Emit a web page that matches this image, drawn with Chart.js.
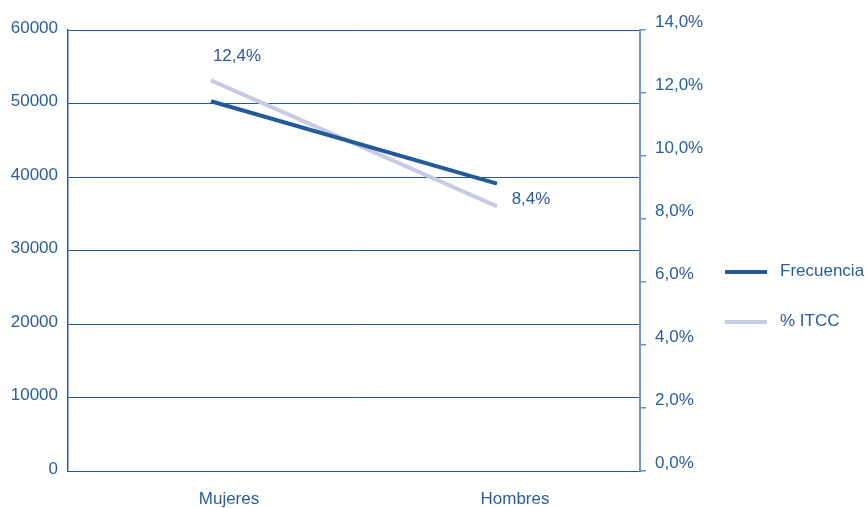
<!DOCTYPE html>
<html>
<head>
<meta charset="utf-8">
<script src="https://cdn.jsdelivr.net/npm/chart.js@4"></script>
<style>
  html, body { margin: 0; padding: 0; background: #fff; }
  #wrap { width: 867px; height: 508px; }
</style>
</head>
<body>
<div id="wrap"><canvas id="chart1"></canvas></div>
<script>
const categorias = ['Mujeres', 'Hombres'];
const frecuencia = [50300, 39100];
const itcc = [12.4, 8.4];

const azul = '#225a9a';
const azulClaro = '#c5cbe2';
const texto = '#2b5d9b';
const fuente = "'Liberation Sans', Arial, sans-serif";

const fmtPct = v => v.toFixed(1).replace('.', ',') + '%';

// etiquetas de datos de % ITCC y leyenda a la derecha
const extras = {
  id: 'extras',
  afterDatasetsDraw(chart) {
    const ctx = chart.ctx;
    ctx.save();
    ctx.font = '17px ' + fuente;
    ctx.fillStyle = texto;
    ctx.textBaseline = 'middle';
    ctx.textAlign = 'center';
    const meta = chart.getDatasetMeta(1);
    const desp = [[26, -24], [34, -7]];
    meta.data.forEach((pt, i) => {
      ctx.fillText(fmtPct(itcc[i]), pt.x + desp[i][0], pt.y + desp[i][1]);
    });

    // leyenda
    const items = [
      { label: 'Frecuencia', color: azul, y: 272 },
      { label: '% ITCC', color: azulClaro, y: 322 }
    ];
    ctx.textAlign = 'left';
    items.forEach(it => {
      ctx.strokeStyle = it.color;
      ctx.lineWidth = 4;
      ctx.beginPath();
      ctx.moveTo(725, it.y);
      ctx.lineTo(767, it.y);
      ctx.stroke();
      ctx.fillText(it.label, 780, it.y - 1);
    });
    ctx.restore();
  }
};

new Chart(document.getElementById('chart1'), {
  type: 'line',
  data: {
    labels: categorias,
    datasets: [{
      label: 'Frecuencia',
      data: frecuencia,
      yAxisID: 'y',
      borderColor: azul,
      borderWidth: 4,
      pointRadius: 0,
      fill: false
    }, {
      label: '% ITCC',
      data: itcc,
      yAxisID: 'y1',
      borderColor: azulClaro,
      borderWidth: 4,
      pointRadius: 0,
      fill: false
    }]
  },
  options: {
    responsive: true,
    maintainAspectRatio: false,
    animation: false,
    layout: { padding: { top: 30, left: 0, right: 0, bottom: 0 } },
    plugins: {
      legend: { display: false },
      tooltip: { enabled: false }
    },
    scales: {
      x: {
        offset: true,
        grid: { display: false, drawTicks: false },
        border: { color: azul, width: 1 },
        ticks: {
          color: texto,
          font: { family: fuente, size: 17 },
          padding: 18,
          labelOffset: 18
        },
        afterFit: s => { s.height = 37; }
      },
      y: {
        position: 'left',
        min: 0,
        max: 60000,
        grid: { color: azul, lineWidth: 1, drawTicks: false },
        border: { color: azul, width: 1.5 },
        ticks: {
          stepSize: 10000,
          color: texto,
          font: { family: fuente, size: 17 },
          padding: 10,
          labelOffset: -2,
          callback: v => String(v)
        },
        afterFit: s => { s.width = 68; }
      },
      y1: {
        position: 'right',
        min: 0,
        max: 14,
        grid: { drawOnChartArea: false, drawTicks: true, tickLength: 6, color: '#6f93c3', lineWidth: 1.5 },
        border: { color: '#6f93c3', width: 2 },
        ticks: {
          stepSize: 2,
          color: texto,
          font: { family: fuente, size: 17 },
          padding: 9,
          labelOffset: -8,
          callback: v => fmtPct(v)
        },
        afterFit: s => { s.width = 227; }
      }
    }
  },
  plugins: [extras]
});
</script>
</body>
</html>
